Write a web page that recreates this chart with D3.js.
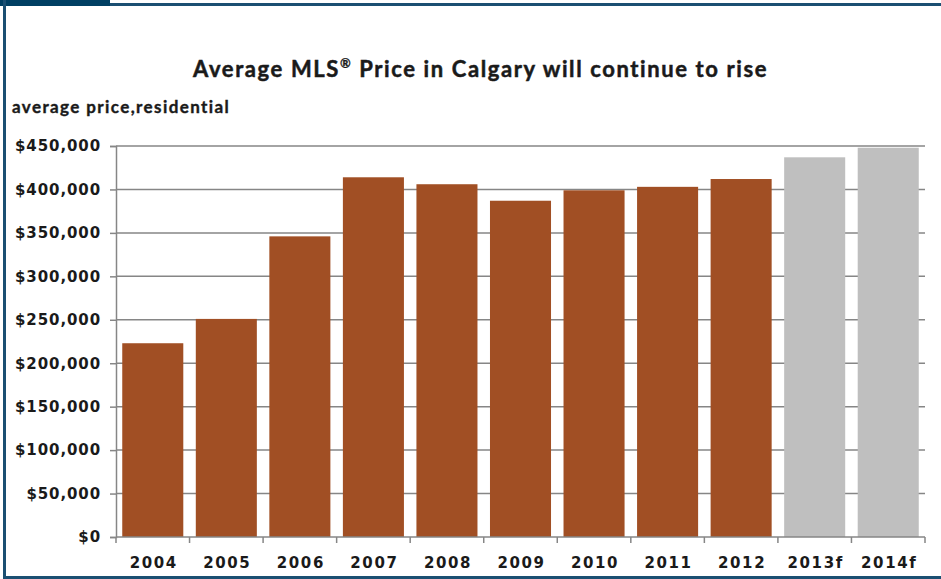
<!DOCTYPE html>
<html>
<head>
<meta charset="utf-8">
<script src="https://cdn.jsdelivr.net/npm/d3@7"></script>
<style>
  body { margin: 0; background: #fff; }
  svg { display: block; font-family: "Lato", "Open Sans", sans-serif; }
</style>
</head>
<body>
<svg id="chart" width="941" height="579"></svg>
<script>
// chart values
var years = ['2004', '2005', '2006', '2007', '2008', '2009', '2010', '2011', '2012', '2013f', '2014f'];
var prices = [223000, 251000, 346000, 414000, 406000, 387000, 399000, 403000, 412000, 437000, 448000];
var forecast = [false, false, false, false, false, false, false, false, false, true, true];
var yTicks = [0, 50000, 100000, 150000, 200000, 250000, 300000, 350000, 400000, 450000];

var svg = d3.select('#chart');
var ink = '#1a1a1a';

// frame
svg.append('rect').attr('x', 0).attr('y', 0).attr('width', 110).attr('height', 6).attr('fill', '#003f63');
svg.append('rect').attr('x', 110).attr('y', 3).attr('width', 831).attr('height', 3).attr('fill', '#1b4f72');
svg.append('rect').attr('x', 3).attr('y', 0).attr('width', 3).attr('height', 579).attr('fill', '#1b4f72');
svg.append('rect').attr('x', 3).attr('y', 576).attr('width', 938).attr('height', 3).attr('fill', '#1b4f72');

svg.append('text')
    .attr('x', 193).attr('y', 77)
    .attr('font-size', 22).attr('font-weight', 'bold').attr('fill', ink)
    .attr('stroke', ink).attr('stroke-width', 0.5)
    .attr('letter-spacing', 1.6)
    .html('Average MLS<tspan font-size="13" dy="-9" stroke-width="0.3">®</tspan><tspan dy="9"> Price in Calgary will continue to rise</tspan>');

svg.append('text')
    .attr('x', 12).attr('y', 113)
    .attr('font-size', 17).attr('font-weight', 'bold').attr('fill', ink)
    .attr('stroke', ink).attr('stroke-width', 0.4)
    .attr('letter-spacing', 1.4)
    .text('average price,residential');

var x0 = 116, x1 = 925, yTop = 146, yBot = 537;

var x = d3.scaleBand().domain(years).range([x0, x1]).paddingInner(0.17).paddingOuter(0.085);
var y = d3.scaleLinear().domain([0, 450000]).range([yBot, yTop]);

// gridlines
svg.append('g').selectAll('line')
    .data(yTicks.slice(1))
    .enter().append('line')
    .attr('x1', x0).attr('x2', x1)
    .attr('y1', function(d) { return y(d); })
    .attr('y2', function(d) { return y(d); })
    .attr('stroke', '#868686').attr('stroke-width', 1.5);

// bars
svg.append('g').selectAll('rect')
    .data(prices)
    .enter().append('rect')
    .attr('x', function(d, i) { return x(years[i]); })
    .attr('y', function(d) { return y(d); })
    .attr('width', x.bandwidth())
    .attr('height', function(d) { return yBot - y(d); })
    .attr('fill', function(d, i) { return forecast[i] ? '#bfbfbf' : '#a14f24'; });

// y axis
var yAxis = svg.append('g')
    .attr('transform', 'translate(' + x0 + ',0)')
    .call(d3.axisLeft(y).tickValues(yTicks).tickSize(6).tickPadding(9)
        .tickFormat(function(d) { return '$' + d3.format(',')(d); }));
yAxis.select('.domain').attr('stroke', '#868686').attr('stroke-width', 1.5);
yAxis.selectAll('.tick line').attr('stroke', '#868686').attr('stroke-width', 1.5);
yAxis.selectAll('text')
    .attr('font-size', 15).attr('font-weight', 'bold').attr('fill', ink)
    .attr('letter-spacing', 0.9).attr('font-family', '"DejaVu Sans", sans-serif');

// x axis
var xAxis = svg.append('g')
    .attr('transform', 'translate(0,' + yBot + ')');
xAxis.append('line').attr('x1', x0).attr('x2', x1).attr('y1', 0).attr('y2', 0)
    .attr('stroke', '#868686').attr('stroke-width', 1.5);
xAxis.selectAll('line.tk')
    .data(d3.range(years.length + 1))
    .enter().append('line')
    .attr('class', 'tk')
    .attr('x1', function(i) { return x0 + i * x.step(); })
    .attr('x2', function(i) { return x0 + i * x.step(); })
    .attr('y1', 0).attr('y2', 6)
    .attr('stroke', '#868686').attr('stroke-width', 1.5);
xAxis.selectAll('text')
    .data(years)
    .enter().append('text')
    .attr('x', function(d) { return x(d) + x.bandwidth() / 2 + 1; })
    .attr('y', 31)
    .attr('text-anchor', 'middle')
    .attr('font-size', 15).attr('font-weight', 'bold').attr('fill', ink)
    .attr('font-family', '"DejaVu Sans", sans-serif')
    .attr('letter-spacing', 1.6)
    .text(function(d) { return d; });
</script>
</body>
</html>
